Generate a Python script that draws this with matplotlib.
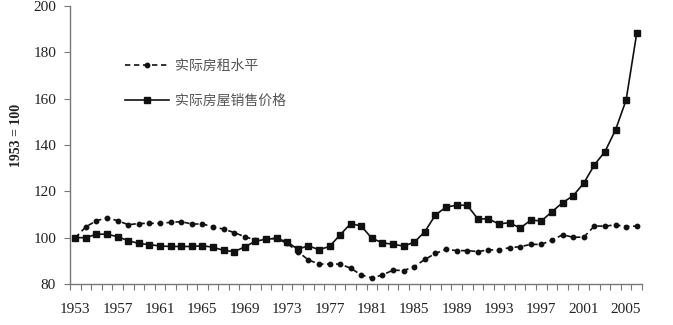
import matplotlib
matplotlib.use("Agg")
import matplotlib.pyplot as plt
import numpy as np

years = list(range(1953, 2007))
rent = [100, 104.7, 107.3, 108.6, 107.3, 105.6, 106.1, 106.2, 106.2, 106.6,
        106.9, 105.9, 105.9, 104.7, 103.7, 102.2, 100.4, 99.0, 99.5, 99.7,
        97.5, 94.0, 90.4, 88.6, 88.6, 88.6, 86.8, 83.9, 82.6, 83.9,
        86.0, 85.8, 87.5, 90.6, 93.2, 95.0, 94.4, 94.4, 94.0, 94.7,
        94.7, 95.7, 96.1, 97.1, 97.1, 99.0, 101.2, 100.2, 100.2, 105.0,
        105.0, 105.5, 104.8, 105.0]
price = [100, 100, 101.5, 101.5, 100.4, 98.7, 97.5, 97.0, 96.4, 96.2,
         96.2, 96.2, 96.5, 95.9, 94.5, 94.0, 96.0, 98.5, 99.3, 99.7,
         98.2, 95.0, 96.5, 94.8, 96.2, 101.2, 106.1, 105.0, 99.7, 97.8,
         97.1, 96.4, 98.0, 102.6, 109.8, 113.2, 114.0, 114.0, 108.1, 108.1,
         105.9, 106.5, 104.1, 107.6, 107.2, 111.2, 115.1, 118.1, 123.5, 131.4,
         137.1, 146.5, 159.4, 188.2]
x_labels = [str(y) for y in range(1953, 2006, 4)]
y_ticks = [80, 100, 120, 140, 160, 180, 200]
series_names = ["实际房租水平", "实际房屋销售价格"]
ylabel = "1953 = 100"

fig = plt.figure(figsize=(6.73, 3.25), dpi=100)
ax = fig.add_axes([70/673, 41/325, 572/673, 278/325])

ink = "#111111"
ax.plot(years, rent, color=ink, lw=1.2, linestyle=(0, (3.2, 2.2)),
        marker="o", markersize=3.2, label=series_names[0])
ax.plot(years, price, color=ink, lw=1.2, linestyle="-",
        marker="s", markersize=5, label=series_names[1])

ax.set_xlim(years[0] - 0.5, years[-1] + 0.5)
ax.set_ylim(80, 200)

for s in ["top", "right"]:
    ax.spines[s].set_visible(False)
for s in ["left", "bottom"]:
    ax.spines[s].set_color("#777777")
    ax.spines[s].set_linewidth(1.0)

serif = "Liberation Serif"
ax.set_yticks(y_ticks)
ax.set_yticklabels([str(v) for v in y_ticks], fontsize=11, family=serif, color="#222222")
ax.tick_params(axis="y", direction="out", length=4, color="#777777", pad=6)

bounds = np.arange(years[0] - 0.5, years[-1] + 1.0, 1.0)
ax.set_xticks(bounds)
ax.set_xticklabels([""] * len(bounds))
ax.tick_params(axis="x", which="major", direction="out", length=4, color="#777777")
label_pos = [int(l) for l in x_labels]
ax.set_xticks(label_pos, minor=True)
ax.set_xticklabels(x_labels, minor=True, fontsize=11, family=serif, color="#222222")
ax.tick_params(axis="x", which="minor", length=0, pad=14)

fig.text(17/673, 1 - 135/325, ylabel, rotation=90, ha="center", va="center",
         fontsize=10, fontweight="bold", family=serif, color="#222222")

leg = ax.legend(loc="upper left", bbox_to_anchor=(119/673, 1 - 53/325),
                bbox_transform=fig.transFigure, frameon=False,
                prop={"family": ["Noto Sans CJK SC", "DejaVu Sans"], "size": 10},
                handlelength=3.2, handletextpad=0.4, labelspacing=1.55,
                borderaxespad=0)
for t in leg.get_texts():
    t.set_color("#555555")

fig.savefig("out.png", dpi=100, facecolor="white")
